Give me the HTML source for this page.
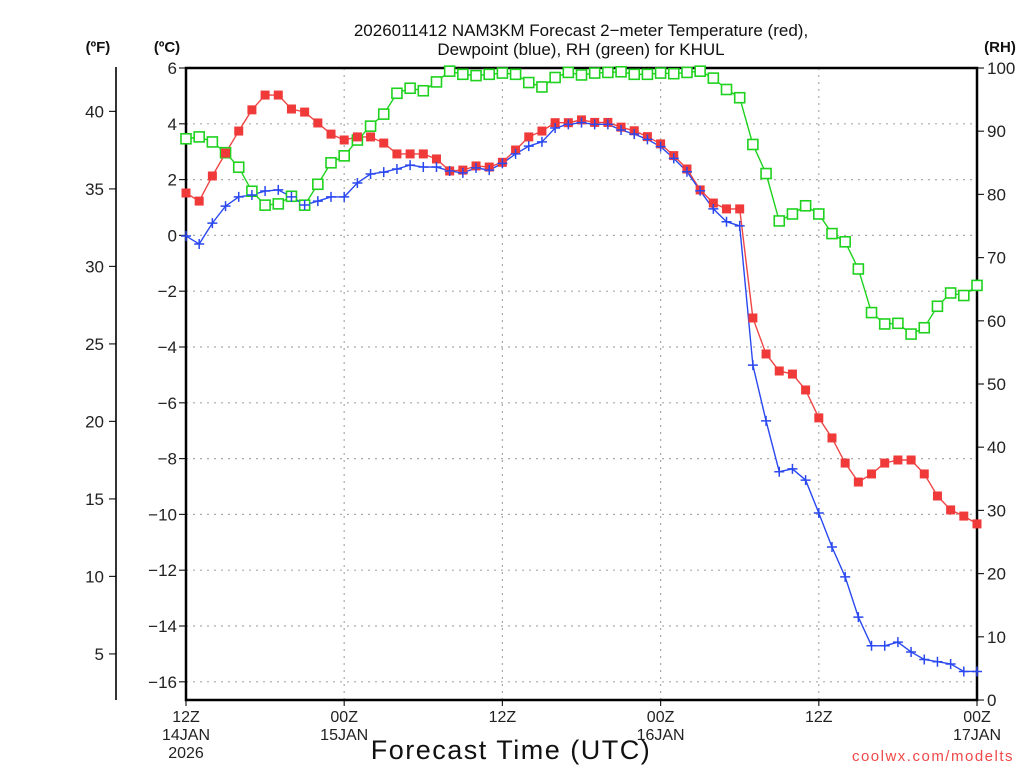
<!DOCTYPE html>
<html><head><meta charset="utf-8"><style>
html,body{margin:0;padding:0;background:#fff;}
svg{display:block;font-family:"Liberation Sans",sans-serif;}
</style></head><body>
<svg id="chart" width="1024" height="768" viewBox="0 0 1024 768">
<g id="grid"></g>
<g id="axes"></g>
<g id="series"></g>
<text x="581" y="36" text-anchor="middle" font-size="17" fill="#111">2026011412 NAM3KM Forecast 2−meter Temperature (red),</text>
<text x="581" y="55" text-anchor="middle" font-size="17" fill="#111">Dewpoint (blue), RH (green) for KHUL</text>
<text x="98" y="52" text-anchor="middle" font-size="15" font-weight="bold" fill="#111">(ºF)</text>
<text x="167" y="52" text-anchor="middle" font-size="15" font-weight="bold" fill="#111">(ºC)</text>
<text x="1000" y="52" text-anchor="middle" font-size="15" font-weight="bold" fill="#111">(RH)</text>
<text x="511" y="759" text-anchor="middle" font-size="27" fill="#111" letter-spacing="1.5">Forecast Time (UTC)</text>
<text x="1014" y="761" text-anchor="end" font-size="15" fill="#f04848" letter-spacing="1.5">coolwx.com/modelts</text>
</svg>
<script>
const hours = [0,1,2,3,4,5,6,7,8,9,10,11,12,13,14,15,16,17,18,19,20,21,22,23,24,25,26,27,28,29,30,31,32,33,34,35,36,37,38,39,40,41,42,43,44,45,46,47,48,49,50,51,52,53,54,55,56,57,58,59,60];
const tempC = [1.52,1.23,2.13,2.95,3.74,4.5,5.03,5.03,4.53,4.42,4.03,3.63,3.42,3.53,3.53,3.31,2.92,2.92,2.92,2.74,2.31,2.34,2.49,2.45,2.62,3.06,3.53,3.74,4.04,4.04,4.14,4.05,4.05,3.88,3.75,3.54,3.28,2.86,2.38,1.63,1.16,0.95,0.95,-2.96,-4.25,-4.86,-4.97,-5.54,-6.54,-7.26,-8.16,-8.84,-8.55,-8.16,-8.05,-8.05,-8.55,-9.34,-9.84,-10.06,-10.34];
const dewC = [-0.02,-0.31,0.44,1.05,1.38,1.45,1.59,1.63,1.38,1.09,1.23,1.38,1.38,1.88,2.2,2.27,2.38,2.52,2.45,2.45,2.31,2.24,2.42,2.34,2.58,2.92,3.2,3.35,3.85,3.98,4.04,3.98,3.98,3.78,3.63,3.44,3.18,2.76,2.28,1.6,0.95,0.49,0.34,-4.65,-6.65,-8.47,-8.37,-8.77,-9.95,-11.17,-12.24,-13.68,-14.71,-14.71,-14.58,-14.93,-15.2,-15.28,-15.36,-15.63,-15.63];
const rh = [88.8,89.1,88.3,86.6,84.3,80.5,78.3,78.5,79.7,78.3,81.6,85,86.1,88.6,90.8,92.7,96,96.8,96.4,97.8,99.5,99,98.8,99,99.2,99,97.7,97,98.5,99.3,98.9,99.2,99.3,99.4,99,99,99.2,99.1,99.3,99.5,98.4,96.6,95.3,87.9,83.3,75.8,76.9,78.2,76.9,73.8,72.5,68.2,61.3,59.5,59.6,57.9,58.9,62.3,64.4,64,65.6];
const cTicks = [6,4,2,0,-2,-4,-6,-8,-10,-12,-14,-16];
const fTicks = [40,35,30,25,20,15,10,5];
const rhTicks = [0,10,20,30,40,50,60,70,80,90,100];
const xTickHours = [0,12,24,36,48,60];
const xTickLabels = [["12Z","14JAN","2026"],["00Z","15JAN"],["12Z"],["00Z","16JAN"],["12Z"],["00Z","17JAN"]];

const L=186,R=977,T=68,B=700;
const xS = h => L + h*(R-L)/60;
const yC = c => T + (6-c)*27.9;
const yF = f => yC((f-32)*5/9);
const yRH = v => B - v*(B-T)/100;
const NS="http://www.w3.org/2000/svg";
function mk(tag, attrs, parent, txt){const e=document.createElementNS(NS,tag);for(const k in attrs)e.setAttribute(k,attrs[k]);if(txt!==undefined)e.textContent=txt;parent.appendChild(e);return e;}
const grid=document.getElementById('grid'), axes=document.getElementById('axes'), ser=document.getElementById('series');

cTicks.forEach(c=>{
  const y=yC(c);
  const g=mk('line',{x1:L,x2:R,y1:y,y2:y,stroke:'#aaa','stroke-width':1.2,'stroke-dasharray':'2,5'},grid);
  
  
  const t=mk('line',{x1:L-7,x2:L,y1:y,y2:y,stroke:'#222','stroke-width':1.2},axes);
  
  
  const lb=mk('text',{x:L-9,y:y+6,'text-anchor':'end','font-size':17,fill:'#222'},axes,String(c).replace('-','−'));
  
  
});
xTickHours.forEach((h,i)=>{
  const x=xS(h);
  if(h>0&&h<60){const g=mk('line',{x1:x,x2:x,y1:T,y2:B,stroke:'#aaa','stroke-width':1.2,'stroke-dasharray':'2,5'},grid);
  
  }
  const t=mk('line',{x1:x,x2:x,y1:B,y2:B+6,stroke:'#222','stroke-width':1.2},axes);
  
  
  xTickLabels[i].forEach((s,j)=>{
    const lb=mk('text',{x:x,y:B+22+j*18,'text-anchor':'middle','font-size':16,fill:'#222'},axes,s);
    
    
  });
});
fTicks.forEach(f=>{
  const y=yF(f);
  const t=mk('line',{x1:109,x2:116,y1:y,y2:y,stroke:'#222','stroke-width':1.2},axes);
  
  
  const lb=mk('text',{x:104,y:y+6,'text-anchor':'end','font-size':17,fill:'#222'},axes,String(f));
  
  
});
rhTicks.forEach(v=>{
  const y=yRH(v);
  const t=mk('line',{x1:R,x2:R+7,y1:y,y2:y,stroke:'#222','stroke-width':1.2},axes);
  
  
  const lb=mk('text',{x:R+10,y:y+6,'text-anchor':'start','font-size':17,fill:'#222'},axes,String(v));
  
  
});
const fr=mk('rect',{x:L,y:T,width:R-L,height:B-T,fill:'none',stroke:'#000','stroke-width':2.5},axes);


const fa=mk('line',{x1:116,x2:116,y1:67,y2:B,stroke:'#000','stroke-width':1.6},axes);



function line(vals, yf, color, name){
  const p=mk('polyline',{points:vals.map((v,i)=>xS(hours[i])+','+yf(v)).join(' '),fill:'none',stroke:color,'stroke-width':1.4},ser);
  
  
}
line(rh,yRH,'#1ed21e','rh-line');
line(tempC,yC,'#f04545','temperature-line');
line(dewC,yC,'#2a48f0','dewpoint-line');
rh.forEach((v,i)=>{
  const m=mk('rect',{x:xS(hours[i])-5,y:yRH(v)-5,width:10,height:10,fill:'#fff',stroke:'#1ed21e','stroke-width':1.6},ser);
  
  
});
tempC.forEach((v,i)=>{
  const m=mk('rect',{x:xS(hours[i])-4.5,y:yC(v)-4.5,width:9,height:9,fill:'#f03a3a'},ser);
  
  
});
dewC.forEach((v,i)=>{
  const x=xS(hours[i]),y=yC(v);
  const m=mk('path',{d:`M${x-5},${y}H${x+5}M${x},${y-5}V${y+5}`,stroke:'#2a48f0','stroke-width':1.5},ser);
  
  
});
</script>
</body></html>
